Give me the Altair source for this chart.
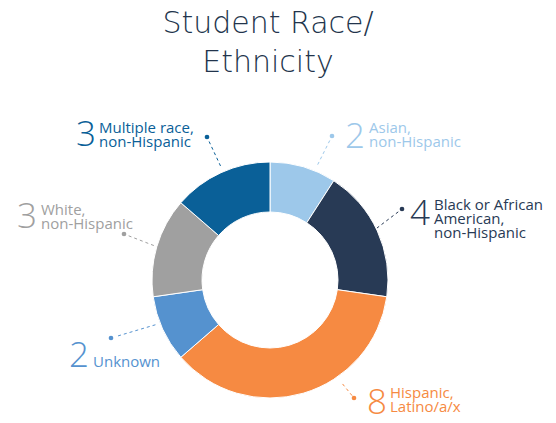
import altair as alt
import pandas as pd

# ---- data ----
categories = ["Asian, non-Hispanic", "Black or African American, non-Hispanic",
              "Hispanic, Latino/a/x", "Unknown", "White, non-Hispanic",
              "Multiple race, non-Hispanic"]
counts = [2, 4, 8, 2, 3, 3]
label_text = ["Asian,\nnon-Hispanic", "Black or African\nAmerican,\nnon-Hispanic",
              "Hispanic,\nLatino/a/x", "Unknown", "White,\nnon-Hispanic",
              "Multiple race,\nnon-Hispanic"]
title_text = "Student Race/\nEthnicity"

# ---- style / layout ----
palette = ["#9DC8EA", "#283A55", "#F68A42", "#5592CF", "#A0A0A0", "#0A6098"]
CX, CY, R_OUT, R_IN = 270, 280, 118, 68
# annotation layout: dot, leader-line end, number right edge/baseline, text left/first baseline
dot_x = [332, 402, 354, 111, 124, 207]
dot_y = [136, 209, 398, 338, 234, 137]
end_x = [317, 377, 341, 158, 155, 221]
end_y = [166, 228, 382, 324, 246, 167]
num_x = [365, 430, 387, 89, 37, 96]
num_y = [148, 225, 414, 367, 228, 146]
txt_x = [369, 434, 390, 93, 41, 99]
txt_y = [133, 210, 398, 367, 215, 133]

df = pd.DataFrame({
    "cat": categories, "count": counts, "order": list(range(len(categories))),
    "color": palette, "label": label_text,
    "dx": dot_x, "dy": dot_y, "ex": end_x, "ey": end_y,
    "nx": num_x, "ny": num_y, "tx": txt_x, "ty": txt_y,
})
df["lx"] = df["dx"] + (df["ex"] - df["dx"]) * 0.15
df["ly"] = df["dy"] + (df["ey"] - df["dy"]) * 0.15

base = alt.Chart(df)

arcs = base.mark_arc(radius=R_OUT, radius2=R_IN, stroke="white", strokeWidth=1).encode(
    theta=alt.Theta("count:Q", stack=True),
    order=alt.Order("order:Q"),
    color=alt.Color("color:N", scale=None),
    x=alt.value(CX), y=alt.value(CY),
)

leaders = base.mark_rule(strokeDash=[3, 3], strokeWidth=1).encode(
    x=alt.X("lx:Q", scale=None), y=alt.Y("ly:Q", scale=None),
    x2="ex:Q", y2="ey:Q",
    color=alt.Color("color:N", scale=None),
)

dots = base.mark_circle(size=22, opacity=1).encode(
    x=alt.X("dx:Q", scale=None), y=alt.Y("dy:Q", scale=None),
    color=alt.Color("color:N", scale=None),
)

nums = base.mark_text(font="Open Sans", fontSize=35, align="right", baseline="alphabetic",
                      fontWeight=300).encode(
    x=alt.X("nx:Q", scale=None), y=alt.Y("ny:Q", scale=None),
    text="count:Q",
    color=alt.Color("color:N", scale=None),
)

labels = base.mark_text(font="Open Sans", fontSize=15, align="left", baseline="alphabetic",
                        lineBreak="\n", lineHeight=14).encode(
    x=alt.X("tx:Q", scale=None), y=alt.Y("ty:Q", scale=None),
    text="label:N",
    color=alt.Color("color:N", scale=None),
)

title = alt.Chart(pd.DataFrame({"t": [title_text]})).mark_text(
    font="DejaVu Sans", fontSize=30, align="center", baseline="alphabetic",
    lineBreak="\n", lineHeight=39, color="#22344C", fontWeight=200
).encode(x=alt.value(268), y=alt.value(33), text="t:N")

chart = alt.layer(arcs, leaders, dots, nums, labels, title).properties(
    width=556, height=423,
    autosize=alt.AutoSizeParams(type="none"),
    padding=0,
).configure_view(stroke=None)

chart.save("out.html", embed_options={"renderer": "svg", "actions": False})
